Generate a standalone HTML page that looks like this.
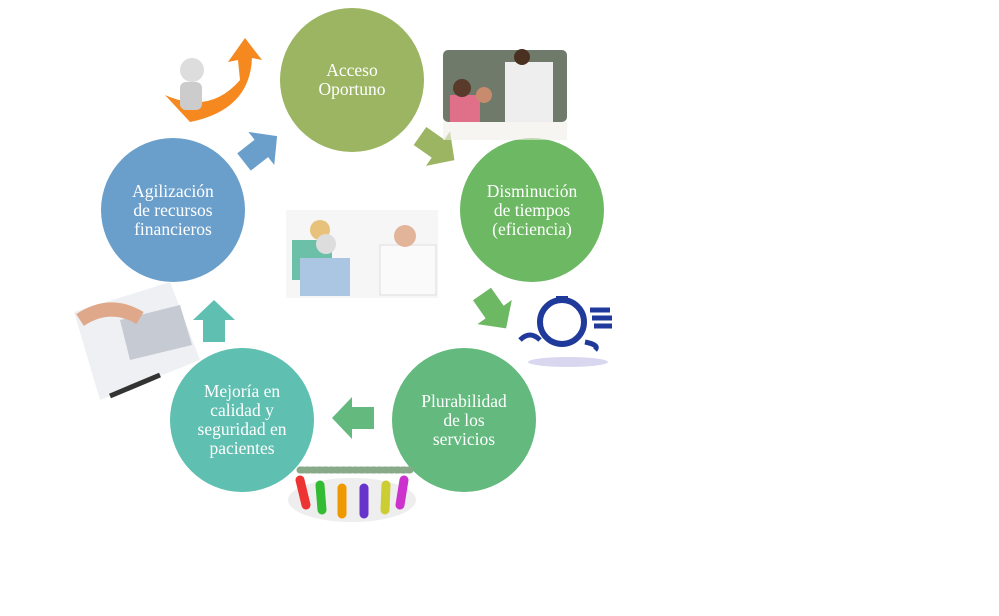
<!DOCTYPE html>
<html><head><meta charset="utf-8"><style>
body{margin:0;width:999px;height:616px;background:#fff;position:relative;overflow:hidden;font-family:"Liberation Serif",serif}
.c{position:absolute;width:144px;height:144px;border-radius:50%;color:#fff;display:flex;align-items:center;justify-content:center;text-align:center;font-size:17.5px;line-height:19px}
</style></head><body>
<div class="c" style="left:280px;top:8px;background:#9bb562">Acceso<br>Oportuno</div>
<div class="c" style="left:460px;top:138px;background:#6cb863">Disminución<br>de tiempos<br>(eficiencia)</div>
<div class="c" style="left:392px;top:348px;background:#63b97e">Plurabilidad<br>de los<br>servicios</div>
<div class="c" style="left:170px;top:348px;background:#5fbfb0">Mejoría en<br>calidad y<br>seguridad en<br>pacientes</div>
<div class="c" style="left:101px;top:138px;background:#6b9fcb">Agilización<br>de recursos<br>financieros</div>
<svg width="999" height="616" style="position:absolute;left:0;top:0">
<polygon points="0,-11 22,-11 22,-21 42,0 22,21 22,11 0,11" fill="#9bb562" transform="translate(420,136) rotate(35)"/>
<polygon points="0,-11 22,-11 22,-21 42,0 22,21 22,11 0,11" fill="#6cb863" transform="translate(482,294) rotate(55)"/>
<polygon points="0,-11 22,-11 22,-21 42,0 22,21 22,11 0,11" fill="#63b97e" transform="translate(374,418) rotate(180)"/>
<polygon points="0,-11 22,-11 22,-21 42,0 22,21 22,11 0,11" fill="#5fbfb0" transform="translate(214,342) rotate(-90)"/>
<polygon points="0,-11 22,-11 22,-21 42,0 22,21 22,11 0,11" fill="#6b9fcb" transform="translate(244,162) rotate(-38)"/>
<path d="M165,95 Q210,115 240,80 L238,60 L228,62 L245,38 L262,60 L252,58 Q250,110 190,122 Z" fill="#f5891f"/>
<circle cx="192" cy="70" r="12" fill="#ddd"/><rect x="180" y="82" width="22" height="28" rx="6" fill="#ccc"/>
<rect x="443" y="50" width="124" height="72" rx="5" fill="#6f7a6b"/>
<rect x="505" y="62" width="48" height="60" fill="#eee"/><circle cx="522" cy="57" r="8" fill="#4a3020"/>
<rect x="450" y="95" width="30" height="27" fill="#e0708a"/><circle cx="462" cy="88" r="9" fill="#5a3a2a"/><circle cx="484" cy="95" r="8" fill="#c98b6d"/>
<rect x="443" y="122" width="124" height="18" fill="#f2eeea" opacity=".6"/>
<rect x="286" y="210" width="152" height="88" fill="#f6f6f6"/>
<rect x="292" y="240" width="40" height="40" fill="#6cc0a8"/><rect x="300" y="258" width="50" height="38" fill="#aac6e2"/>
<circle cx="320" cy="230" r="10" fill="#e8c27a"/><circle cx="326" cy="244" r="10" fill="#ddd"/>
<rect x="380" y="245" width="56" height="50" fill="#fafafa" stroke="#ddd"/><circle cx="405" cy="236" r="11" fill="#e2b59a"/>
<ellipse cx="568" cy="362" rx="40" ry="5" fill="#d9d6f0"/>
<circle cx="562" cy="322" r="22" fill="none" stroke="#1f3a9a" stroke-width="6"/>
<rect x="556" y="296" width="12" height="6" fill="#1f3a9a"/>
<path d="M520,340 Q530,330 540,340 M585,342 Q600,345 595,350 M590,310 L610,310 M592,318 L612,318 M594,326 L612,326" stroke="#1f3a9a" stroke-width="5" fill="none"/>
<polygon points="74,312 170,282 200,360 100,400" fill="#eef0f4"/>
<polygon points="120,320 180,305 192,345 130,360" fill="#c6cad2"/>
<path d="M80,320 Q110,300 140,318" stroke="#e0a88a" stroke-width="14" fill="none"/>
<line x1="110" y1="396" x2="160" y2="375" stroke="#333" stroke-width="5"/>
<ellipse cx="352" cy="500" rx="64" ry="22" fill="#eee"/>
<g stroke-width="9" stroke-linecap="round">
<line x1="300" y1="480" x2="306" y2="505" stroke="#e33"/>
<line x1="320" y1="485" x2="322" y2="510" stroke="#3b3"/>
<line x1="342" y1="488" x2="342" y2="514" stroke="#e90"/>
<line x1="364" y1="488" x2="364" y2="514" stroke="#63c"/>
<line x1="386" y1="485" x2="385" y2="510" stroke="#cc3"/>
<line x1="404" y1="480" x2="400" y2="505" stroke="#c3c"/>
<line x1="300" y1="470" x2="410" y2="470" stroke="#8a8" stroke-width="7" stroke-dasharray="3 3"/>
</g>
</svg>
</body></html>
